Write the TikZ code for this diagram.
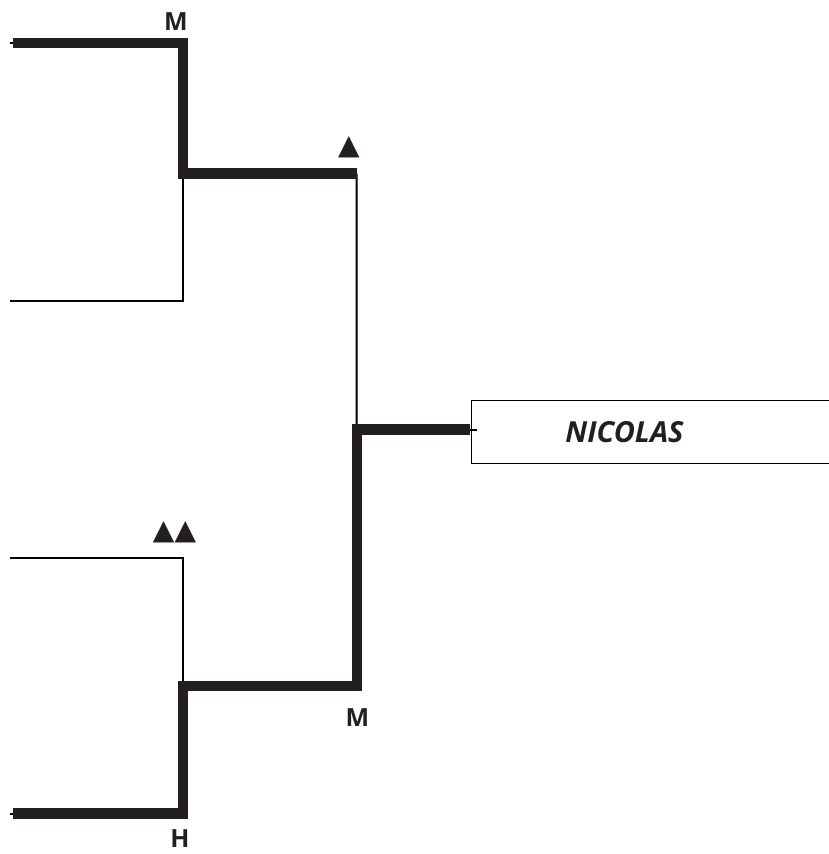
\documentclass[tikz,border=0pt]{standalone}
\usepackage{fontspec}
\setmainfont{Open Sans}
\newfontfamily\symfont{DejaVu Sans}
\usepackage{xcolor}
\usepackage{tikz}
\definecolor{ink}{HTML}{231F20}

\begin{document}
\begin{tikzpicture}[x=1pt, y=-1pt]
\tikzstyle{seedline} = [draw=black, line width=2pt, line join=miter]
\tikzstyle{winline} = [draw=ink, line width=10.5pt, line join=miter]
\tikzstyle{namebox} = [rectangle, draw=black, line width=1.8pt, anchor=west, minimum height=63pt, text width=260pt, inner xsep=94pt, align=left, font=\fontsize{29}{32}\selectfont\bfseries\itshape, text=ink]
\tikzstyle{scorelabel} = [inner sep=0pt, font=\fontsize{25}{28}\selectfont\bfseries, text=ink]
\tikzstyle{tri} = [inner sep=0pt, font=\symfont\fontsize{28}{30}\selectfont, text=ink]

\clip (0,0) rectangle (829,854);

\coordinate (a1) at (10,43);     \coordinate (a2) at (183,43);
\coordinate (b1) at (10,301);    \coordinate (b2) at (183,301);
\coordinate (c1) at (10,557.5);  \coordinate (c2) at (183,557.5);
\coordinate (d1) at (10,813.5);  \coordinate (d2) at (183,813.5);
\coordinate (ab) at (183,173.5); \coordinate (abr) at (356.5,173.5);
\coordinate (cd) at (183,686);   \coordinate (cdr) at (357,686);
\coordinate (fin) at (357,429.5);

\node (winner) [namebox] at (470.5,432) {NICOLAS};

\draw[seedline] (a1) -- (a2) -- (b2) -- (b1);
\draw[seedline] (c1) -- (c2) -- (d2) -- (d1);
\draw[seedline] (abr) -- (cdr);
\draw[seedline] (fin) -- ([xshift=6pt]winner.west |- fin);

\draw[winline] ([xshift=2.7pt]a1) -- (a2) -- (ab) -- (abr);
\draw[winline] ([xshift=2.7pt]d1) -- (d2) -- (cd) -- (cdr) -- (fin) -- ([xshift=-0.5pt]winner.west |- fin);

\node (m1) [scorelabel] at (176,22) {M};
\node (m2) [scorelabel] at (357.5,718) {M};
\node (h1) [scorelabel] at (180,839) {H};
\node (t1) [tri] at (349,147.5) {▲};
\node (t2) [tri] at (174.5,532) {▲▲};

\end{tikzpicture}
\end{document}
